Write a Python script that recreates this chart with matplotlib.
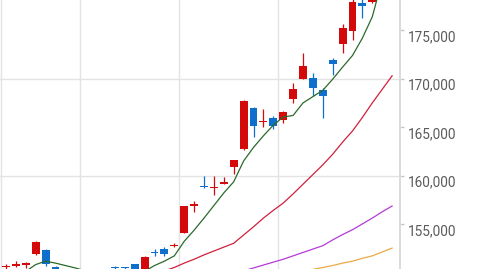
import matplotlib
matplotlib.use("Agg")
import matplotlib.pyplot as plt
import numpy as np

# ---------------- data ----------------
opens  = [150500, 150700, 150800, 151850, 152300, 150600, 150150, 149900, 149800, 149300,
          149600, 150450, 150500, 150850, 150200, 152050, 152400, 152700, 154100, 156900,
          158900, 158700, 159150, 160900, 162700, 166950, 165500, 165900, 165750, 167950,
          169950, 170050, 168850, 171950, 173550, 174950, 177800, 177900, 179800, 190000]
highs  = [150900, 151200, 151100, 153200, 152400, 150700, 150200, 150100, 150000, 149800,
          149900, 150650, 150600, 150900, 151700, 152400, 152600, 153000, 156850, 157400,
          159900, 159900, 159800, 161650, 167750, 167100, 166850, 166100, 166650, 169600,
          172700, 170600, 169000, 172100, 175700, 178300, 178400, 180300, 191000, 193000]
lows   = [150200, 150600, 150400, 151800, 150700, 149900, 149700, 149500, 149100, 149000,
          149200, 150200, 150300, 150100, 150100, 151700, 151700, 152650, 154050, 156200,
          158750, 158000, 159150, 160150, 162650, 164000, 165050, 164800, 165400, 167500,
          169950, 168250, 165900, 170400, 172700, 174000, 176250, 177800, 179500, 189000]
closes = [150600, 150900, 150850, 153150, 150850, 150100, 149900, 149800, 149300, 149600,
          149400, 150400, 150450, 150200, 151600, 152000, 151900, 152850, 156800, 157100,
          158800, 158800, 159350, 161600, 167700, 165100, 165650, 165100, 166600, 168950,
          171300, 169000, 168200, 171500, 175250, 177900, 177500, 180000, 190000, 192000]

nan = float("nan")
ma5 = [nan, nan, 150100, 150800, 151150, 150950, 150700, 150450, 150150, 150000,
       149900, 149850, 149900, 150050, 150100, 150700, 151150, 151700, 153200, 154350,
       155600, 156900, 158200, 159350, 161500, 162900, 164100, 165200, 166050, 166200,
       167500, 168150, 168800, 169950, 171200, 172400, 174200, 176400, 180200, 182300]
ma20 = [nan] * 12 + [149800, 149900, 150000, 150050, 150150, 150500, 150950, 151350,
       151800, 152200, 152600, 153000, 153850, 154700, 155600, 156400, 157150, 158100,
       159100, 160100, 161100, 162200, 163450, 164600, 166000, 167500, 168900, 170300]
ma60 = [nan] * 23 + [150000, 150150, 150450, 150750, 151050, 151350, 151700, 152050,
       152400, 152750, 153350, 153900, 154400, 155000, 155600, 156250, 156850]
ma120 = [nan] * 30 + [150100, 150300, 150500, 150700, 150950, 151150, 151450, 151700,
        152100, 152500]

y_ticks = [155000, 160000, 165000, 170000, 175000]
grid_y = [160000, 170000]
grid_x = [-0.5, 7.5, 17.5, 27.5]

# ---------------- styling ----------------
UP = "#d40a0a"
DOWN = "#0f6fcc"
C_MA5 = "#2b6a2b"
C_MA20 = "#d0203c"
C_MA60 = "#b53ad8"
C_MA120 = "#e9aa44"

fig = plt.figure(figsize=(4.8, 2.69), dpi=100)
ax = fig.add_axes([0, 0, 400.3 / 480, 1])

n = len(opens)
x = np.arange(n)
o = np.array(opens, float)
h = np.array(highs, float)
l = np.array(lows, float)
c = np.array(closes, float)

for gy in grid_y:
    ax.axhline(gy, color="#e3e3e3", lw=1.0, zorder=0)
for gx in grid_x:
    ax.axvline(gx, color="#e3e3e3", lw=1.0, zorder=0)

colors = [UP if cc >= oo else DOWN for oo, cc in zip(o, c)]
ax.vlines(x, l, h, colors=colors, lw=0.9, zorder=2)
body_bottom = np.minimum(o, c)
body_h = np.maximum(np.abs(c - o), 140)
ax.bar(x, body_h, bottom=body_bottom, width=0.8, color=colors, lw=0, zorder=3)

ax.plot(x, ma120, color=C_MA120, lw=0.9, zorder=4)
ax.plot(x, ma60, color=C_MA60, lw=0.9, zorder=4)
ax.plot(x, ma20, color=C_MA20, lw=0.9, zorder=4)
ax.plot(x, ma5, color=C_MA5, lw=0.9, zorder=4)

ax.set_xlim(-6 / 9.9, (400.3 - 6) / 9.9)
ax.set_ylim(150342, 178130)

for s in ["top", "left", "bottom"]:
    ax.spines[s].set_visible(False)
ax.spines["right"].set_color("#d8d8d8")
ax.spines["right"].set_linewidth(1.3)

ax.set_xticks([])
ax.yaxis.tick_right()
ax.set_yticks(y_ticks)
ax.set_yticklabels([f"{v:,}" for v in y_ticks])
ax.tick_params(axis="y", length=3, width=1, color="#c8c8c8", pad=2.5,
               labelsize=9.8, labelcolor="#5a5a5a")
for lab in ax.get_yticklabels():
    lab.set_family("Roboto")
    lab.set_verticalalignment("top")

fig.savefig("out.png", dpi=100)
